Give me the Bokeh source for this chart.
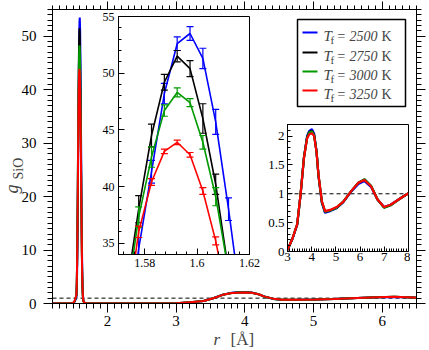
import numpy as np
from bokeh.plotting import figure
from bokeh.models import (Range1d, SingleIntervalTicker, LinearAxis, Span, Label,
                          CustomJSTickFormatter, GridBox)
from bokeh.embed import file_html
from bokeh.resources import INLINE

SERIF = "Liberation Serif"

# ---------------- data ----------------
temps = ["2500", "2750", "3000", "3250"]
colors = ["#0000ff", "#000000", "#009a00", "#ff0000"]

r_tail_left = [1.2, 1.45, 1.5, 1.525]
blue_tail_left = [0.0, 0.0, 0.05, 0.35]
black_tail_left = [0.0, 0.0, 0.06, 0.45]
green_tail_left = [0.0, 0.0, 0.07, 0.5]
red_tail_left = [0.0, 0.0, 0.08, 0.55]

r_peak = [1.5483, 1.5532, 1.5581, 1.5630, 1.5679, 1.5728, 1.5777, 1.5826, 1.5875, 1.5924,
          1.5973, 1.6022, 1.6071, 1.6120, 1.6169, 1.6218, 1.6267, 1.6316, 1.6365, 1.6414]
blue_peak = [1.2, 2.7, 5.6, 10.0, 16.5, 26.0, 34.5, 41.3, 48.2, 52.6,
             53.5, 51.3, 45.7, 38.0, 29.5, 21.0, 13.5, 7.8, 4.2, 2.0]
black_peak = [1.5, 3.5, 7.5, 13.5, 21.5, 30.5, 38.0, 44.5, 49.2, 51.5,
              50.4, 46.0, 40.2, 32.5, 24.5, 16.5, 10.0, 5.5, 2.8, 1.3]
green_peak = [1.6, 3.6, 7.5, 13.5, 21.0, 29.5, 37.3, 42.6, 46.7, 48.3,
              47.4, 43.9, 39.1, 32.5, 25.0, 17.5, 11.0, 6.2, 3.2, 1.5]
red_peak = [1.7, 3.8, 7.5, 13.0, 20.0, 28.0, 36.0, 40.4, 43.1, 43.9,
            42.8, 39.6, 35.2, 29.5, 23.0, 16.5, 10.5, 6.0, 3.2, 1.6]

blue_err = [0.1, 0.2, 0.3, 0.5, 0.7, 0.9, 1.0, 1.0, 0.9, 0.6, 0.6, 0.9, 1.1, 1.0, 1.0, 0.9, 0.7, 0.5, 0.3, 0.2]
black_err = [0.1, 0.2, 0.3, 0.5, 0.8, 1.0, 1.2, 1.0, 0.7, 0.5, 0.7, 1.3, 0.9, 0.9, 0.8, 0.7, 0.5, 0.4, 0.2, 0.1]
green_err = [0.1, 0.2, 0.3, 0.4, 0.6, 0.8, 0.9, 0.9, 0.5, 0.4, 0.35, 0.6, 0.8, 0.8, 0.7, 0.6, 0.5, 0.3, 0.2, 0.1]
red_err = [0.1, 0.1, 0.2, 0.3, 0.4, 0.5, 0.5, 0.3, 0.2, 0.2, 0.2, 0.3, 0.35, 0.4, 0.4, 0.3, 0.3, 0.2, 0.1, 0.1]

r_tail_right = [1.65, 1.67, 1.7]
blue_tail_right = [0.5, 0.12, 0.02]
black_tail_right = [0.35, 0.08, 0.01]
green_tail_right = [0.4, 0.1, 0.01]
red_tail_right = [0.45, 0.1, 0.02]

r_long = [1.75, 2.0, 2.5, 2.8, 3.0, 3.2, 3.4, 3.54, 3.68, 3.81, 3.9, 4.01, 4.1, 4.2, 4.28,
          4.42, 4.55, 4.76, 5.03, 5.3, 5.64, 5.93, 6.18, 6.45, 6.72, 6.99, 7.26, 7.59, 8.0]
blue_long = [0, 0, 0, 0.005, 0.03, 0.21, 0.46, 0.98, 1.63, 2.0, 2.09, 2.12, 2.04, 1.74, 1.31,
             0.84, 0.67, 0.70, 0.75, 0.85, 1.04, 1.17, 1.22, 1.12, 0.90, 0.77, 0.81, 0.90, 1.01]
black_long = [0, 0, 0, 0.005, 0.03, 0.22, 0.47, 0.99, 1.63, 1.98, 2.07, 2.09, 2.02, 1.73, 1.32,
              0.86, 0.69, 0.71, 0.76, 0.86, 1.05, 1.19, 1.25, 1.14, 0.90, 0.76, 0.80, 0.90, 1.01]
green_long = [0, 0, 0, 0.005, 0.03, 0.22, 0.47, 0.99, 1.62, 1.97, 2.06, 2.08, 2.01, 1.73, 1.32,
              0.86, 0.69, 0.71, 0.76, 0.86, 1.05, 1.19, 1.25, 1.14, 0.90, 0.76, 0.80, 0.90, 1.01]
red_long = [0, 0, 0, 0.005, 0.03, 0.22, 0.47, 0.99, 1.62, 1.96, 2.03, 2.05, 2.0, 1.72, 1.33,
            0.87, 0.70, 0.72, 0.77, 0.86, 1.05, 1.19, 1.24, 1.13, 0.90, 0.77, 0.81, 0.90, 1.01]

series = [
    (blue_tail_left, blue_peak, blue_tail_right, blue_long, blue_err),
    (black_tail_left, black_peak, black_tail_right, black_long, black_err),
    (green_tail_left, green_peak, green_tail_right, green_long, green_err),
    (red_tail_left, red_peak, red_tail_right, red_long, red_err),
]
r_main = r_tail_left + r_peak + r_tail_right + r_long


def style_axis(ax, size, mi, mo, ni, no, standoff):
    ax.axis_line_color = "black"
    ax.major_tick_line_color = "black"
    ax.minor_tick_line_color = "black"
    ax.major_tick_in = mi
    ax.major_tick_out = mo
    ax.minor_tick_in = ni
    ax.minor_tick_out = no
    ax.major_label_text_font = SERIF
    ax.major_label_text_font_size = size
    ax.major_label_text_color = "black"
    ax.major_label_standoff = standoff


# ---------------- main figure ----------------
W, H = 429, 350
FL, FR, FT, FB = 52, 416, 9, 303
p = figure(width=W, height=H, x_range=Range1d(1.2, 6.5), y_range=Range1d(0, 55),
           output_backend="svg", toolbar_location=None, title=None,
           min_border_left=FL, min_border_right=W - FR, min_border_top=FT, min_border_bottom=H - FB)
p.grid.visible = False
p.outline_line_color = "black"
p.background_fill_color = "white"
p.border_fill_color = "white"
p.xaxis.ticker = SingleIntervalTicker(interval=1, num_minor_ticks=10)
p.yaxis.ticker = SingleIntervalTicker(interval=10, num_minor_ticks=10)
style_axis(p.xaxis[0], "15px", 0, 9, 0, 5, 3)
style_axis(p.yaxis[0], "15px", 0, 9, 0, 5, 7)
top_ax = LinearAxis(ticker=SingleIntervalTicker(interval=1, num_minor_ticks=10))
style_axis(top_ax, "1px", 0, 8, 0, 4, 0)
top_ax.major_label_text_color = None
p.add_layout(top_ax, "above")
right_ax = LinearAxis(ticker=SingleIntervalTicker(interval=10, num_minor_ticks=10))
style_axis(right_ax, "1px", 0, 9, 0, 5, 0)
right_ax.major_label_text_color = None
p.add_layout(right_ax, "right")

p.add_layout(Span(location=1, dimension="width", line_color="black", line_width=1,
                  line_dash="4 3", level="underlay"))

for (tl, pk, tr, lg, er), c in zip(series, colors):
    p.line(r_main, tl + pk + tr + lg, line_color=c, line_width=2)

fmt_code = "return String(Math.round(tick*1000)/1000);"

# ---------------- inset 1 (peak zoom) ----------------
ins1 = figure(width=165, height=266, x_range=Range1d(1.57, 1.62), y_range=Range1d(34, 55),
              output_backend="svg", toolbar_location=None, title=None,
              min_border_left=20, min_border_right=14, min_border_top=8, min_border_bottom=20)
ins1.grid.visible = False
ins1.outline_line_color = "black"
ins1.border_fill_color = None
ins1.background_fill_color = "white"
ins1.xaxis.ticker = SingleIntervalTicker(interval=0.02, num_minor_ticks=5)
ins1.yaxis.ticker = SingleIntervalTicker(interval=5, num_minor_ticks=5)
ins1.xaxis.formatter = CustomJSTickFormatter(code=fmt_code)
style_axis(ins1.xaxis[0], "12px", 6, 0, 3, 0, 4)
style_axis(ins1.yaxis[0], "12px", 6, 0, 3, 0, 4)
for (tl, pk, tr, lg, er), c in zip(series, colors):
    pk_a = np.array(pk)
    er_a = np.array(er)
    ins1.line(r_peak, pk, line_color=c, line_width=1.6)
    ins1.segment(x0=r_peak, y0=pk_a - er_a, x1=r_peak, y1=pk_a + er_a, line_color=c, line_width=1.2)
    ins1.scatter(r_peak, pk_a + er_a, marker="dash", size=7, line_color=c, line_width=1.2)
    ins1.scatter(r_peak, pk_a - er_a, marker="dash", size=7, line_color=c, line_width=1.2)

# ---------------- inset 2 (long range) ----------------
ins2 = figure(width=145, height=146, x_range=Range1d(3, 8), y_range=Range1d(0, 2.2),
              output_backend="svg", toolbar_location=None, title=None,
              min_border_left=20, min_border_right=2, min_border_top=2, min_border_bottom=17)
ins2.grid.visible = False
ins2.outline_line_color = "black"
ins2.border_fill_color = None
ins2.background_fill_color = "white"
ins2.xaxis.ticker = SingleIntervalTicker(interval=1, num_minor_ticks=10)
ins2.yaxis.ticker = SingleIntervalTicker(interval=0.5, num_minor_ticks=5)
ins2.yaxis.formatter = CustomJSTickFormatter(code=fmt_code)
style_axis(ins2.xaxis[0], "13px", 5, 0, 3, 0, 1)
style_axis(ins2.yaxis[0], "13px", 5, 0, 3, 0, 3)
ins2.add_layout(Span(location=1, dimension="width", line_color="black", line_width=1,
                     line_dash="4 3", level="underlay"))
for (tl, pk, tr, lg, er), c in zip(series, colors):
    ins2.line(r_long, lg, line_color=c, line_width=2.2)

# ---------------- overlay (legend, axis titles) in page pixels ----------------
ov = figure(width=W, height=H, x_range=Range1d(0, W), y_range=Range1d(0, H),
            output_backend="svg", toolbar_location=None, title=None,
            min_border=0, min_border_left=0, min_border_right=0, min_border_top=0, min_border_bottom=0)
ov.axis.visible = False
ov.grid.visible = False
ov.outline_line_color = None
ov.background_fill_color = None
ov.border_fill_color = None


def PY(y):
    return H - y


ov.quad(left=[297], right=[405], top=[PY(19)], bottom=[PY(106)],
        fill_color="white", line_color="black", line_width=1.5)
leg_y = [32, 52, 71, 90]
for t, c, ly in zip(temps, colors, leg_y):
    ov.segment(x0=[302], y0=[PY(ly)], x1=[317], y1=[PY(ly)], line_color=c, line_width=2)
    base = ly + 3.5
    ov.add_layout(Label(x=323, y=PY(base), text="T", text_font=SERIF, text_font_size="15px",
                        text_font_style="italic", text_baseline="alphabetic"))
    ov.add_layout(Label(x=330, y=PY(base + 3.5), text="f", text_font=SERIF, text_font_size="11px",
                        text_baseline="alphabetic"))
    ov.add_layout(Label(x=336, y=PY(base), text="= " + t, text_font=SERIF, text_font_size="14px",
                        text_font_style="italic", text_baseline="alphabetic"))
    ov.add_layout(Label(x=381, y=PY(base), text="K", text_font=SERIF, text_font_size="14px",
                        text_baseline="alphabetic"))

ov.add_layout(Label(x=213, y=PY(339), text="r", text_font=SERIF, text_font_size="17px",
                    text_font_style="italic", text_baseline="alphabetic"))
ov.add_layout(Label(x=230, y=PY(339), text="[Å]", text_font=SERIF, text_font_size="17px",
                    text_baseline="alphabetic"))
ov.add_layout(Label(x=11, y=PY(193), text="g", text_font=SERIF, text_font_size="18px",
                    text_font_style="italic", text_baseline="alphabetic", angle=np.pi / 2))
ov.add_layout(Label(x=18, y=PY(179), text="SiO", text_font=SERIF, text_font_size="14px",
                    text_baseline="alphabetic", angle=np.pi / 2))

layout = GridBox(children=[(p, 1, 1, 5, 5), (ins1, 2, 2, 3, 1), (ins2, 3, 4, 1, 1), (ov, 0, 0, 7, 7)],
                 rows=["0px", "8px", "114px", "146px", "6px", "76px", "0px"],
                 cols=["0px", "98px", "165px", "2px", "145px", "19px", "0px"])

open("out.html", "w").write(file_html(layout, INLINE))
